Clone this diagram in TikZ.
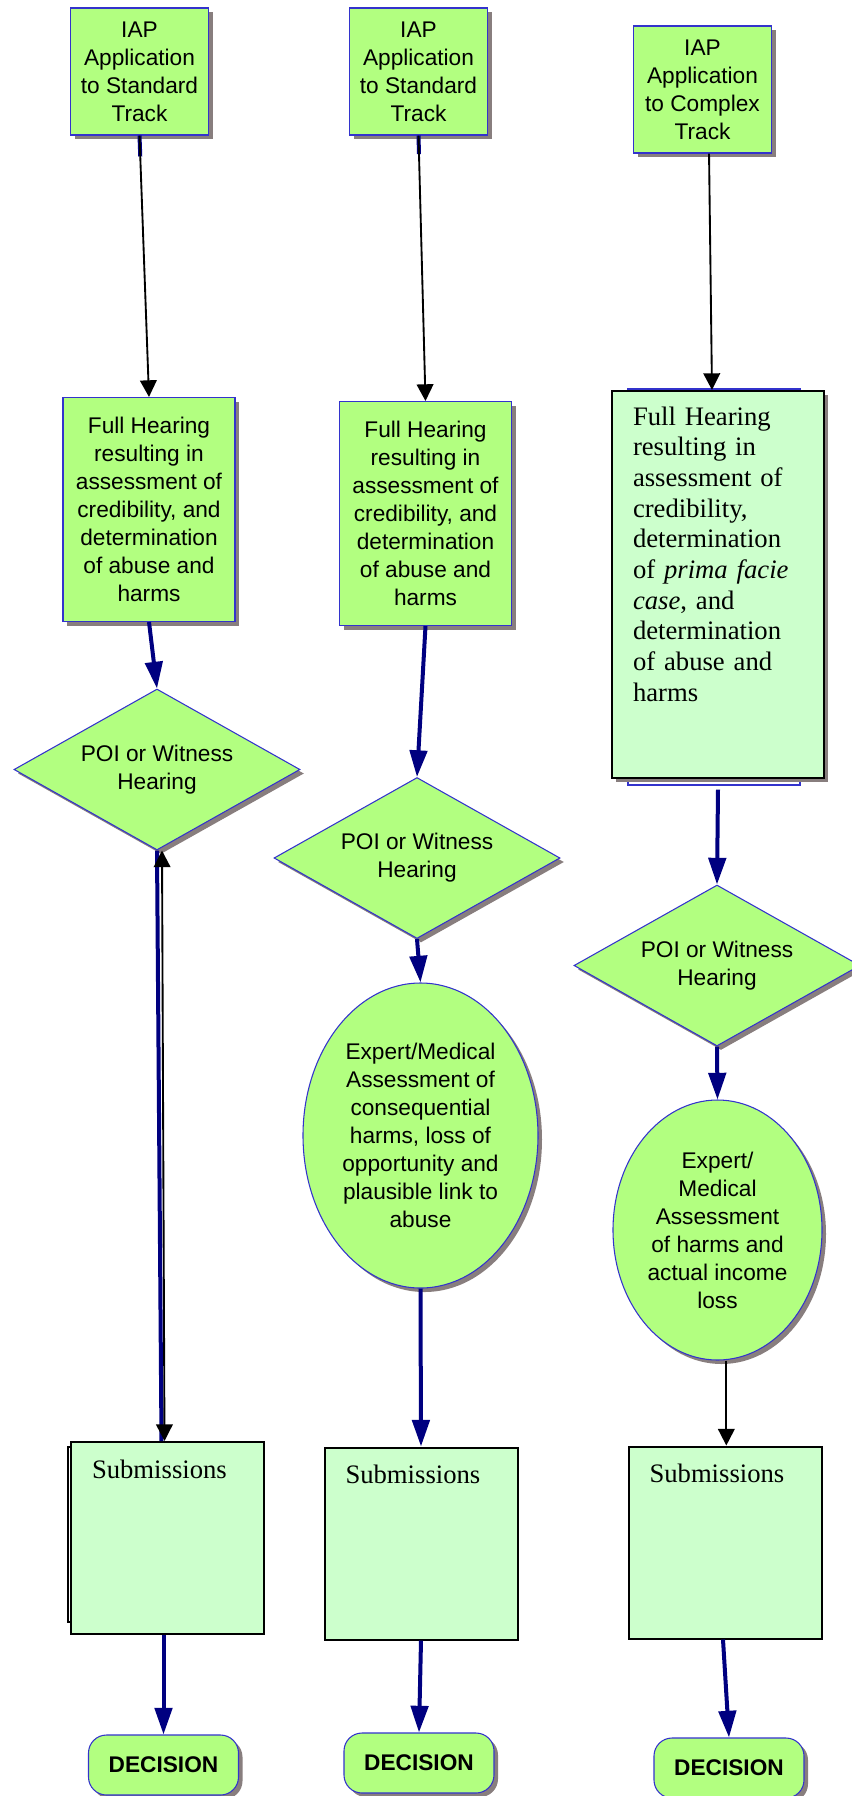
\documentclass[tikz,border=0pt]{standalone}
\usepackage{fontspec}
\setmainfont{Liberation Serif}
\setsansfont{Liberation Sans}
\usepackage{tikz}
\usetikzlibrary{shapes.geometric,arrows.meta,shadows,calc}

\definecolor{boxgreen}{RGB}{178,255,128}
\definecolor{palegreen}{RGB}{204,255,204}
\definecolor{edgeblue}{RGB}{51,51,204}
\definecolor{navyline}{RGB}{0,0,128}
\definecolor{shadowgray}{RGB}{136,126,126}

\tikzset{
    boxshadow/.style={drop shadow={shadow xshift=3pt,shadow yshift=-3pt,fill=shadowgray,opacity=1}},
    greenshape/.style={fill=boxgreen,draw=edgeblue,line width=0.8pt,inner sep=0pt,align=center,
        font=\sffamily\fontsize{17}{21}\selectfont,boxshadow},
    trackbox/.style={greenshape,rectangle,minimum width=103.5pt,minimum height=95.25pt},
    hearingbox/.style={greenshape,rectangle,minimum width=129pt,minimum height=168pt},
    poidiamond/.style={greenshape,diamond,aspect=1.78,minimum width=214.5pt,minimum height=120.75pt},
    expertoval/.style={greenshape,ellipse},
    decisionbox/.style={greenshape,rectangle,rounded corners=13.5pt,minimum width=112.5pt,minimum height=45pt,
        font=\sffamily\bfseries\fontsize{17}{21}\selectfont},
    palebox/.style={rectangle,fill=palegreen,draw=black,line width=1.5pt,align=left,
        inner xsep=15.75pt,inner ysep=0pt,font=\fontsize{20}{23}\selectfont},
    subbox/.style={palebox,text width=113.25pt,text height=27pt,text depth=117pt},
    navyarrow/.style={draw=navyline,line width=3pt,-{Triangle[length=20pt,width=13pt]}},
    thinarrow/.style={draw=black,line width=1.4pt,-{Triangle[length=12.5pt,width=12.5pt]}},
}

\begin{document}
\begin{tikzpicture}[x=0.75pt,y=-0.75pt]
            \useasboundingbox (0,0) rectangle (852,1796);
            \node[trackbox] (iapA) at (139.5,71.5) {IAP\\Application\\to Standard\\Track};
            \node[trackbox] (iapB) at (418.5,71.5) {IAP\\Application\\to Standard\\Track};
            \node[trackbox] (iapC) at (702.5,89.5) {IAP\\Application\\to Complex\\Track};

            \node[hearingbox] (hearA) at (149,509.5) {Full Hearing\\resulting in\\assessment of\\credibility, and\\determination\\of abuse and\\harms};
            \node[hearingbox] (hearB) at (425.5,513.5) {Full Hearing\\resulting in\\assessment of\\credibility, and\\determination\\of abuse and\\harms};
            \draw[edgeblue,line width=0.8pt] (628,389) rectangle (800,785);
            \node[palebox,boxshadow,text width=127.5pt,text height=25.5pt,text depth=264.75pt] (hearC) at (718,584.5)
                {Full Hearing\\resulting in\\assessment of\\credibility,\\determination\\of \textit{prima facie}\\\textit{case}, and\\determination\\of abuse and\\harms};

            \node[poidiamond] (poiA) at (157,769.5) {POI or Witness\\Hearing};
            \node[poidiamond] (poiB) at (417,858) {POI or Witness\\Hearing};
            \node[poidiamond] (poiC) at (717,965.5) {POI or Witness\\Hearing};

            \node[expertoval,minimum width=176.25pt,minimum height=228.75pt] (expB) at (420.5,1135.5)
                {Expert/Medical\\Assessment of\\consequential\\harms, loss of\\opportunity and\\plausible link to\\abuse};
            \node[expertoval,minimum width=156.75pt,minimum height=195pt] (expC) at (717.5,1230)
                {Expert/\\Medical\\Assessment\\of harms and\\actual income\\loss};

            \draw[line width=1.5pt] (68,1447) rectangle (150,1622);
            \node[subbox] (subA) at (167.5,1538) {Submissions};
            \node[subbox] (subB) at (421,1543.5) {Submissions};
            \node[subbox] (subC) at (725,1542.5) {Submissions};

            \node[decisionbox] (decA) at (163.5,1765) {DECISION};
            \node[decisionbox] (decB) at (419,1763) {DECISION};
            \node[decisionbox] (decC) at (729,1768) {DECISION};

            \draw[navyline,line width=3pt] (iapA.south) -- ($(iapA.south)!0.08!(hearA.north)$);
            \draw[navyline,line width=3pt] (iapB.south) -- ($(iapB.south)!0.07!(hearB.north)$);
            \draw[thinarrow] (iapA.south) -- (hearA.north);
            \draw[thinarrow] (iapB.south) -- (hearB.north);
            \draw[thinarrow] ([xshift=4.9pt]iapC.south) -- ([xshift=-4.5pt]hearC.north);

            \draw[navyarrow] (hearA.south) -- (poiA.north);
            \draw[navyline,line width=3pt] (poiA.south) -- ([xshift=-4.5pt]subA.north);
            \draw[thinarrow,{Triangle[length=12.5pt,width=12.5pt]}-{Triangle[length=12.5pt,width=12.5pt]}]
                ([xshift=3.75pt]poiA.south) -- ([xshift=-2.25pt]subA.north);
            \draw[navyarrow] (subA.south -| decA.north) -- (decA.north);

            \draw[navyarrow] (hearB.south) -- (poiB.north);
            \draw[navyarrow] (poiB.south) -- (expB.north);
            \draw[navyarrow] (expB.south) -- (subB.north);
            \draw[navyarrow] (subB.south) -- (decB.north);

            \draw[navyarrow] ([yshift=-8pt]hearC.south) -- (poiC.north);
            \draw[navyarrow] (poiC.south) -- (expC.north);
            \draw[thinarrow] ([xshift=1pt]expC.south -| subC.north) -- ([xshift=1pt]subC.north);
            \draw[navyarrow] ([xshift=-1.5pt]subC.south) -- (decC.north);
\end{tikzpicture}
\end{document}
